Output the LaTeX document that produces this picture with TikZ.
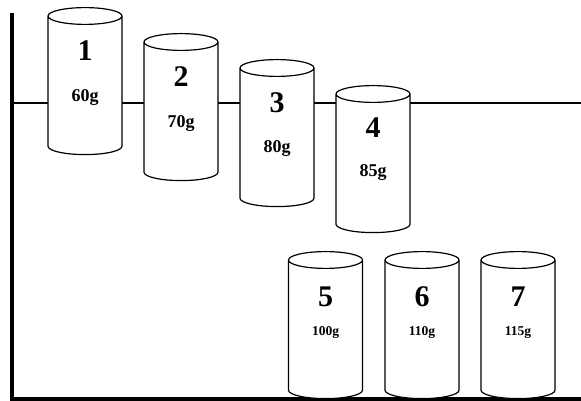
\documentclass[tikz,border=0pt]{standalone}
\usepackage{fontspec}
\setmainfont{Liberation Serif}
\usetikzlibrary{shapes.geometric}

\begin{document}
\begin{tikzpicture}[x=1pt,y=1pt]
        \useasboundingbox (0,0) rectangle (581,401);

        % stand and shelf
        \draw[line width=3.5pt] (12,388) |- (581,2);
        \draw[line width=1.3pt] (12,298) -- (581,298);

        \begin{scope}[every node/.style={cylinder, draw, fill=white, line width=1.2pt, inner sep=4pt,
            shape border rotate=90, aspect=2.1, minimum width=74pt, minimum height=147pt, anchor=north}]
          \node (1)  at (85,394)    {};
          \node (2)  at (181,368)   {};
          \node (3)  at (277,342)   {};
          \node (4)  at (373,316)   {};
          \node (5)  at (325.5,150) {};
          \node (6)  at (422,150)   {};
          \node (7)  at (518,150)   {};
        \end{scope}

        \begin{scope}[every node/.style={anchor=base, inner sep=0pt, font=\bfseries}]
          \begin{scope}[every node/.append style={font=\fontsize{30}{36}\selectfont\bfseries}]
            \node (n1) at ([yshift=-54pt]1.north) {1};
            \node (n2) at ([yshift=-54pt]2.north) {2};
            \node (n3) at ([yshift=-54pt]3.north) {3};
            \node (n4) at ([yshift=-53pt]4.north) {4};
            \node (n5) at ([yshift=-56pt]5.north) {5};
            \node (n6) at ([yshift=-56pt]6.north) {6};
            \node (n7) at ([yshift=-56pt]7.north) {7};
          \end{scope}

          \begin{scope}[every node/.append style={font=\fontsize{18}{22}\selectfont\bfseries}]
            \node (w1) at ([yshift=-95pt]1.north) {60g};
            \node (w2) at ([yshift=-95pt]2.north) {70g};
            \node (w3) at ([yshift=-94pt]3.north) {80g};
            \node (w4) at ([yshift=-92pt]4.north) {85g};
          \end{scope}

          \begin{scope}[every node/.append style={font=\fontsize{13.5}{16}\selectfont\bfseries}]
            \node (w5) at ([yshift=-85pt]5.north) {100g};
            \node (w6) at ([yshift=-85pt]6.north) {110g};
            \node (w7) at ([yshift=-85pt]7.north) {115g};
          \end{scope}
        \end{scope}

      \end{tikzpicture}
\end{document}
